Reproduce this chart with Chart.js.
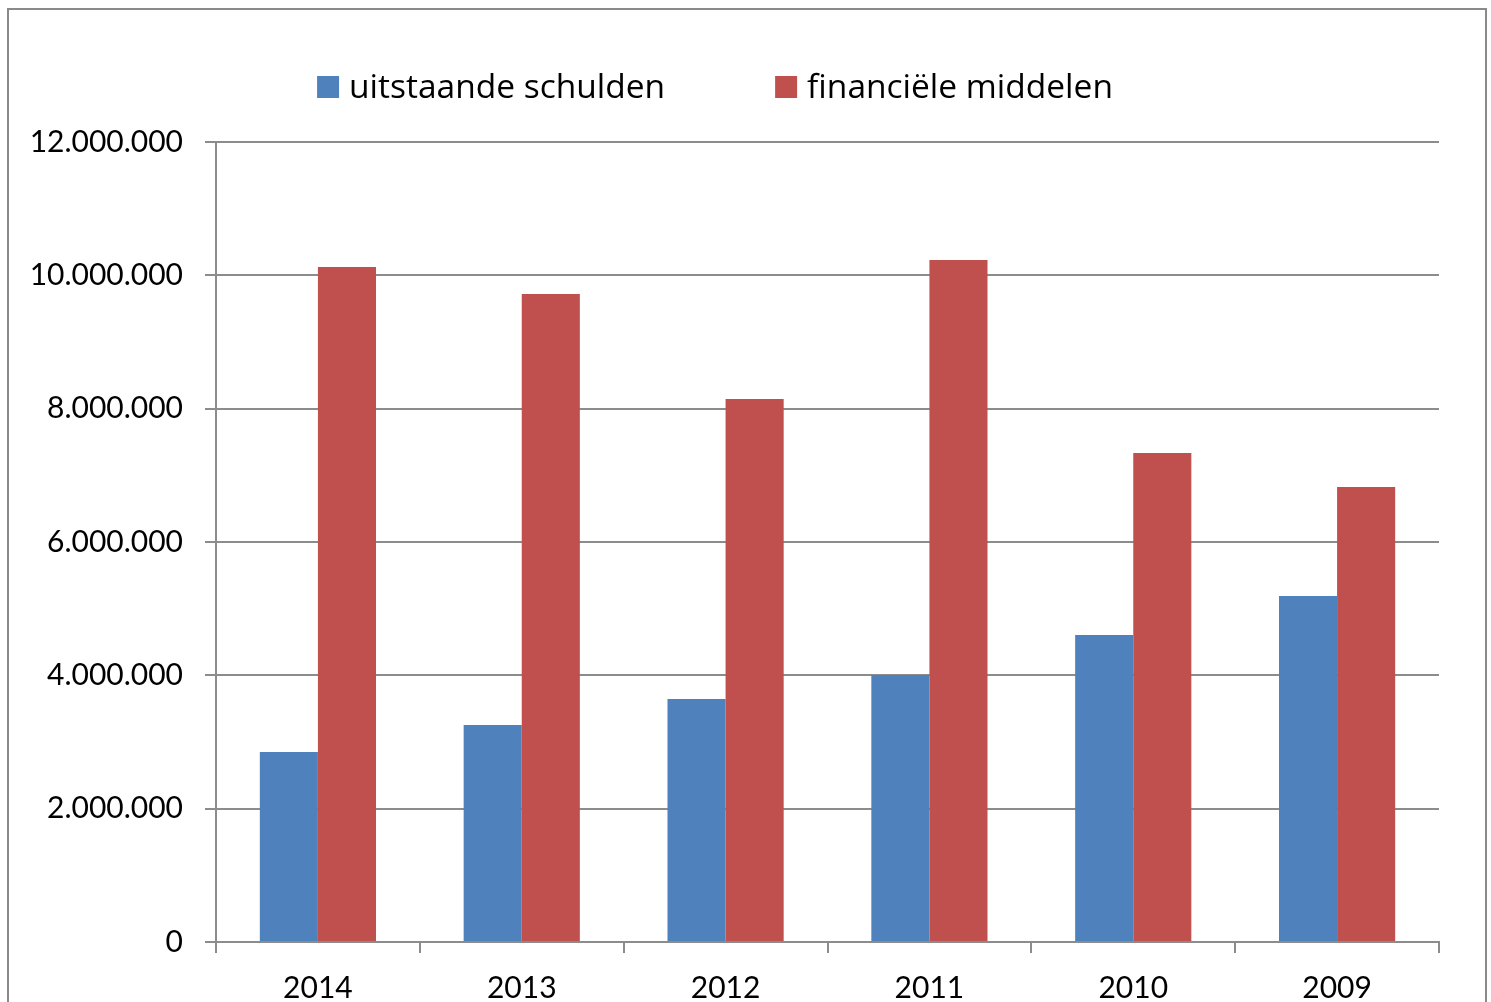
<!DOCTYPE html>
<html>
<head>
<meta charset="utf-8">
<script src="https://cdn.jsdelivr.net/npm/chart.js@4"></script>
<style>
    html, body { margin: 0; padding: 0; background: #fff; overflow: hidden; }
    #frame {
        position: absolute; left: 7px; top: 8px; width: 1476px; height: 1100px;
        border: 2px solid #8a8a8a;
    }
    #wrap { position: absolute; left: 0; top: 0; width: 1491px; height: 1002px; }
</style>
</head>
<body>
<div id="frame"></div>
<div id="wrap"><canvas id="chart"></canvas></div>
<script>
// Data
const years = ['2014', '2013', '2012', '2011', '2010', '2009'];
const uitstaandeSchulden = [2850000, 3255000, 3645000, 4005000, 4605000, 5190000];
const financieleMiddelen = [10125000, 9720000, 8145000, 10230000, 7335000, 6825000];
const seriesNames = ['uitstaande schulden', 'financiële middelen'];
const yTicks = [0, 2000000, 4000000, 6000000, 8000000, 10000000, 12000000];

const FONT = 'Lato';
const LEGEND_FONT = '"Open Sans"';
const gridColor = '#8c8c8c';

function formatDots(v) {
    return String(v).replace(/\B(?=(\d{3})+(?!\d))/g, '.');
}

// Legend drawn at the top, centred, like the spreadsheet one
const topLegend = {
    id: 'topLegend',
    afterDraw(chart) {
        const ctx = chart.ctx;
        const box = 22, gapText = 10, gapItems = 110;
        ctx.save();
        ctx.font = '33.5px ' + LEGEND_FONT;
        ctx.textBaseline = 'middle';
        const items = chart.data.datasets.map(ds => ({
            label: ds.label, color: ds.backgroundColor, w: ctx.measureText(ds.label).width
        }));
        let total = items.reduce((s, it) => s + box + gapText + it.w, 0) + gapItems * (items.length - 1);
        let x = 715 - total / 2;
        const y = 87;
        items.forEach(it => {
            ctx.fillStyle = it.color;
            ctx.fillRect(x, y - box / 2, box, box);
            ctx.fillStyle = '#000';
            ctx.fillText(it.label, x + box + gapText, y + 1);
            x += box + gapText + it.w + gapItems;
        });
        ctx.restore();
    }
};

const ctx = document.getElementById('chart').getContext('2d');
new Chart(ctx, {
    type: 'bar',
    data: {
        labels: years,
        datasets: [
            {
                label: seriesNames[0],
                data: uitstaandeSchulden,
                backgroundColor: '#4F81BD',
                categoryPercentage: 0.57,
                barPercentage: 1
            },
            {
                label: seriesNames[1],
                data: financieleMiddelen,
                backgroundColor: '#C0504D',
                categoryPercentage: 0.57,
                barPercentage: 1
            }
        ]
    },
    options: {
        responsive: true,
        maintainAspectRatio: false,
        animation: false,
        layout: { padding: { top: 142, right: 52, bottom: 0, left: 0 } },
        plugins: {
            legend: { display: false },
            tooltip: { enabled: false }
        },
        scales: {
            x: {
                afterFit: function (scale) { scale.height = 60; },
                grid: {
                    drawOnChartArea: false,
                    drawTicks: true,
                    tickLength: 11,
                    color: gridColor,
                    lineWidth: 2
                },
                border: { display: true, color: gridColor, width: 2 },
                ticks: {
                    color: '#000',
                    padding: 17,
                    font: { family: FONT, size: 30 }
                }
            },
            y: {
                min: 0,
                max: 12000000,
                afterFit: function (scale) { scale.width = 216; },
                afterBuildTicks: function (scale) {
                    scale.ticks = yTicks.map(v => ({ value: v }));
                },
                grid: {
                    drawTicks: true,
                    tickLength: 11,
                    color: gridColor,
                    lineWidth: 2
                },
                border: { display: true, color: gridColor, width: 2 },
                ticks: {
                    color: '#000',
                    padding: 22,
                    font: { family: FONT, size: 30 },
                    callback: function (v) { return formatDots(v); }
                }
            }
        }
    },
    plugins: [topLegend]
});
</script>
</body>
</html>
